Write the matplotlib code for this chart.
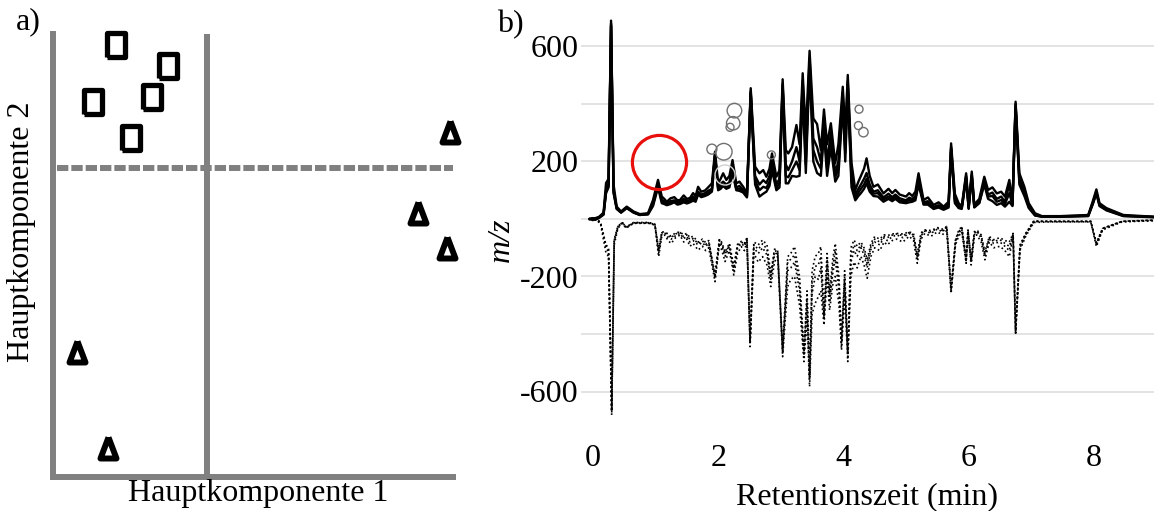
import numpy as np
import matplotlib
matplotlib.use("Agg")
import matplotlib.pyplot as plt
from matplotlib.markers import MarkerStyle

plt.rcParams['font.family'] = ['Liberation Serif', 'DejaVu Serif']
plt.rcParams['font.size'] = 23

# --- a) PCA score plot ---
pc1_square = [-2.28, -0.98, -2.85, -1.38, -1.90]
pc2_square = [3.08, 2.55, 1.65, 1.78, 0.75]
pc1_triangle = [6.08, 5.28, 6.00, -3.25, -2.48]
pc2_triangle = [0.90, -1.13, -2.00, -4.60, -7.00]

# --- b) mirrored chromatograms (upper: solid, lower: dotted) ---
rt_pos = [-0.05, 0.00, 0.05, 0.10, 0.17, 0.21, 0.25, 0.29, 0.33, 0.38,
          0.45, 0.54, 0.65, 0.75, 0.88, 0.96, 1.04, 1.10, 1.14, 1.18,
          1.24, 1.30, 1.35, 1.39, 1.45, 1.50, 1.55, 1.60, 1.64, 1.68,
          1.73, 1.79, 1.84, 1.90, 1.95, 2.00, 2.04, 2.08, 2.13, 2.18,
          2.23, 2.29, 2.34, 2.40, 2.46, 2.52, 2.59, 2.66, 2.72, 2.77,
          2.82, 2.86, 2.93, 2.98, 3.03, 3.08, 3.12, 3.18, 3.25, 3.30,
          3.35, 3.40, 3.46, 3.52, 3.58, 3.64, 3.69, 3.74, 3.80, 3.87,
          3.92, 3.99, 4.03, 4.07, 4.13, 4.19, 4.24, 4.28, 4.33, 4.37,
          4.42, 4.48, 4.55, 4.64, 4.72, 4.78, 4.83, 4.90, 5.00, 5.05,
          5.10, 5.15, 5.20, 5.28, 5.35, 5.44, 5.52, 5.60, 5.68, 5.72,
          5.78, 5.84, 5.89, 5.96, 6.00, 6.05, 6.09, 6.17, 6.25, 6.31,
          6.38, 6.45, 6.52, 6.58, 6.65, 6.70, 6.75, 6.81, 6.89, 6.96,
          7.06, 7.17, 7.46, 7.91, 7.98, 8.04, 8.09, 8.20, 8.47, 8.96]
pos_a = [0, 3, 2, 8, 22, 125, 140, 690, 120, 43,
         26, 43, 26, 17, 20, 66, 136, 78, 70, 60,
         72, 76, 65, 66, 82, 70, 73, 90, 80, 112,
         95, 99, 110, 124, 234, 124, 140, 159, 136, 150,
         205, 124, 130, 112, 90, 455, 182, 159, 170, 147,
         175, 228, 147, 170, 486, 240, 228, 250, 327, 260,
         507, 300, 585, 350, 330, 240, 381, 260, 333, 194,
         260, 460, 300, 501, 194, 101, 130, 150, 175, 211,
         150, 112, 120, 89, 105, 90, 101, 85, 78, 90,
         80, 95, 159, 66, 75, 49, 58, 43, 60, 263,
         88, 55, 45, 159, 45, 165, 50, 70, 147, 101,
         110, 89, 95, 78, 136, 60, 408, 159, 112, 55,
         20, 10, 10, 14, 60, 103, 55, 38, 14, 8]
pos_b = [0, -4, 4, 6, 18, 100, 120, 680, 100, 38,
         24, 40, 24, 15, 18, 55, 125, 65, 62, 55,
         62, 65, 58, 60, 70, 62, 66, 78, 72, 95,
         85, 90, 98, 105, 225, 110, 122, 130, 120, 128,
         180, 110, 115, 100, 82, 445, 150, 120, 135, 125,
         150, 200, 120, 140, 470, 190, 170, 200, 250, 200,
         480, 230, 560, 280, 250, 200, 350, 200, 300, 160,
         200, 440, 260, 480, 150, 85, 105, 120, 140, 160,
         120, 95, 100, 75, 88, 76, 85, 72, 65, 74,
         70, 80, 140, 58, 62, 42, 48, 38, 50, 250,
         70, 45, 40, 150, 40, 155, 45, 60, 135, 85,
         92, 70, 78, 60, 120, 50, 400, 140, 95, 45,
         15, 9, 9, 12, 55, 95, 50, 34, 12, 7]
pos_c = [0, 2, 0, 5, 16, 95, 115, 675, 95, 36,
         23, 39, 23, 14, 17, 50, 118, 60, 57, 50,
         56, 60, 54, 55, 64, 58, 62, 70, 66, 88,
         80, 84, 90, 98, 220, 104, 112, 120, 110, 118,
         170, 104, 106, 95, 78, 440, 135, 100, 112, 108,
         130, 185, 108, 125, 462, 150, 145, 170, 200, 170,
         460, 190, 545, 240, 200, 175, 325, 175, 275, 145,
         175, 420, 230, 465, 130, 75, 92, 105, 120, 140,
         105, 88, 90, 68, 78, 68, 78, 64, 60, 66,
         65, 72, 130, 54, 56, 38, 44, 35, 45, 245,
         62, 40, 38, 145, 38, 150, 42, 57, 128, 78,
         80, 60, 66, 52, 90, 48, 395, 130, 88, 42,
         13, 8, 8, 11, 52, 92, 48, 32, 11, 7]
pos_d = [0, 1, -2, 4, 15, 90, 110, 670, 90, 35,
         22, 38, 22, 14, 16, 45, 110, 55, 52, 48,
         52, 58, 50, 52, 58, 54, 58, 64, 60, 85,
         76, 80, 85, 95, 215, 100, 105, 115, 105, 110,
         160, 100, 98, 92, 75, 435, 120, 78, 88, 95,
         115, 170, 100, 110, 455, 124, 124, 150, 147, 150,
         440, 160, 530, 200, 160, 150, 300, 150, 250, 130,
         150, 400, 200, 450, 110, 65, 80, 90, 105, 124,
         95, 80, 78, 60, 70, 62, 70, 58, 55, 58,
         60, 65, 120, 50, 50, 35, 40, 32, 40, 240,
         55, 38, 35, 140, 35, 145, 40, 55, 120, 70,
         62, 49, 55, 43, 60, 45, 390, 120, 80, 38,
         12, 8, 8, 10, 50, 88, 45, 30, 10, 6]

rt_neg = [-0.05, 0.00, 0.05, 0.12, 0.21, 0.25, 0.30, 0.34, 0.40, 0.47,
          0.53, 0.65, 0.89, 0.99, 1.05, 1.10, 1.15, 1.20, 1.25, 1.32,
          1.39, 1.45, 1.50, 1.55, 1.60, 1.68, 1.75, 1.80, 1.85, 1.95,
          2.02, 2.06, 2.11, 2.18, 2.25, 2.31, 2.37, 2.42, 2.46, 2.51,
          2.57, 2.64, 2.71, 2.78, 2.84, 2.90, 2.95, 3.03, 3.11, 3.16,
          3.22, 3.30, 3.37, 3.42, 3.46, 3.50, 3.55, 3.60, 3.64, 3.69,
          3.74, 3.78, 3.83, 3.87, 3.93, 3.97, 4.02, 4.07, 4.12, 4.17,
          4.22, 4.28, 4.33, 4.38, 4.44, 4.50, 4.58, 4.65, 4.70, 4.78,
          4.85, 4.95, 5.05, 5.12, 5.18, 5.24, 5.30, 5.40, 5.50, 5.58,
          5.65, 5.72, 5.79, 5.84, 5.89, 5.96, 5.99, 6.04, 6.09, 6.13,
          6.20, 6.26, 6.33, 6.40, 6.50, 6.58, 6.65, 6.71, 6.75, 6.82,
          6.91, 7.04, 7.30, 7.95, 8.04, 8.14, 8.45, 8.96]
neg_a = [0, -3, -4, -15, -119, -130, -682, -90, -32, -15,
         -32, -15, -15, -21, -131, -60, -56, -75, -85, -65,
         -56, -80, -70, -95, -85, -108, -95, -110, -100, -218,
         -85, -110, -148, -110, -195, -120, -96, -110, -79, -444,
         -119, -150, -131, -160, -235, -150, -130, -479, -235, -210,
         -200, -300, -496, -350, -583, -330, -293, -270, -250, -369,
         -200, -317, -230, -200, -300, -456, -260, -496, -200, -150,
         -170, -130, -160, -206, -130, -100, -110, -80, -90, -75,
         -70, -80, -60, -75, -154, -70, -50, -60, -45, -55,
         -40, -259, -90, -60, -45, -154, -50, -160, -65, -55,
         -80, -142, -80, -100, -95, -110, -131, -60, -403, -108,
         -61, -12, -10, -10, -96, -38, -10, -6]
neg_b = [0, 2, -3, -12, -100, -115, -670, -80, -28, -13,
         -30, -14, -14, -20, -120, -52, -50, -65, -70, -58,
         -50, -68, -60, -80, -75, -90, -82, -95, -85, -205,
         -75, -95, -130, -95, -180, -100, -85, -95, -70, -430,
         -100, -120, -100, -125, -210, -125, -115, -465, -180, -170,
         -150, -250, -480, -300, -560, -260, -200, -210, -170, -350,
         -160, -290, -190, -140, -250, -440, -220, -480, -150, -110,
         -130, -100, -125, -170, -105, -80, -90, -65, -75, -62,
         -55, -65, -50, -62, -140, -58, -42, -50, -35, -45,
         -30, -250, -80, -50, -35, -145, -42, -150, -55, -45,
         -65, -130, -70, -85, -80, -95, -110, -55, -395, -100,
         -55, -9, -9, -9, -90, -35, -9, -5]
neg_c = [0, -2, -2, -11, -95, -108, -665, -75, -26, -12,
         -29, -13, -13, -19, -112, -48, -47, -58, -65, -52,
         -47, -62, -55, -72, -68, -85, -76, -88, -80, -200,
         -72, -88, -122, -90, -172, -92, -80, -88, -68, -425,
         -90, -105, -86, -105, -200, -112, -110, -458, -150, -140,
         -125, -225, -470, -275, -550, -220, -165, -160, -130, -335,
         -140, -275, -165, -110, -225, -430, -200, -470, -125, -90,
         -110, -90, -110, -155, -95, -70, -80, -60, -65, -56,
         -52, -58, -47, -56, -132, -52, -40, -45, -32, -40,
         -28, -245, -76, -45, -30, -140, -40, -145, -50, -42,
         -60, -122, -65, -78, -72, -85, -95, -52, -390, -95,
         -52, -8, -8, -8, -86, -33, -8, -4]
neg_d = [0, -2, -2, -10, -90, -100, -660, -70, -25, -12,
         -28, -12, -12, -18, -105, -45, -45, -52, -60, -48,
         -45, -55, -50, -65, -60, -80, -70, -82, -75, -195,
         -70, -82, -115, -85, -165, -88, -78, -85, -65, -420,
         -80, -90, -73, -90, -190, -105, -108, -450, -131, -120,
         -96, -200, -460, -250, -540, -180, -130, -120, -96, -320,
         -120, -260, -140, -85, -200, -420, -180, -460, -100, -73,
         -95, -80, -100, -140, -85, -61, -70, -55, -58, -52,
         -50, -52, -45, -50, -125, -48, -38, -40, -30, -35,
         -26, -240, -73, -40, -26, -135, -38, -140, -45, -38,
         -55, -115, -61, -72, -65, -75, -80, -50, -385, -90,
         -50, -7, -8, -8, -82, -32, -8, -4]

# open circles marking features, and the highlighted region
feat_rt = [2.26, 2.24, 2.19, 1.90, 2.09, 2.11, 2.85, 4.25, 4.24, 4.32]
feat_mz = [377, 333, 319, 243, 234, 153, 223, 382, 325, 302]
feat_weight = [7.3, 6.7, 4.0, 5.0, 8.3, 10.0, 4.0, 4.0, 4.0, 4.7]
feat_faint = [False, False, False, False, False, True, False, False, False, False]
highlight_rt = 1.05
highlight_mz = 199

fig = plt.figure(figsize=(11.54, 5.11), dpi=100)
W, H = 1154, 511

gray = '#808080'

ax1 = fig.add_axes([53 / W, 1 - 477 / H, 400 / W, 443 / H])
ax1.set_xlim(-3.85, 6.15)
ax1.set_ylim(-7.725, 3.35)
for s in ['top', 'right']:
    ax1.spines[s].set_visible(False)
for s in ['left', 'bottom']:
    ax1.spines[s].set_color(gray)
    ax1.spines[s].set_linewidth(4.3)
ax1.set_xticks([])
ax1.set_yticks([])
ax1.axvline(0, color=gray, lw=4.3, zorder=1)
ax1.axhline(0, xmin=0.01, color=gray, lw=4.3, dashes=(1.9, 0.5), zorder=1)

rect = [(-0.78, -1), (0.78, -1), (0.78, 1), (-0.78, 1), (-0.78, -1)]
ax1.plot(pc1_square, pc2_square, ls='none', marker=rect, ms=17,
         mfc='white', mec='black', mew=3.8, clip_on=False, zorder=3)
tri = MarkerStyle([(0, 1), (-0.72, -0.9), (0.72, -0.9), (0, 1)],
                  joinstyle='round')
ax1.plot(pc1_triangle, pc2_triangle, ls='none', marker=tri, ms=16,
         mfc='white', mec='black', mew=4.3, clip_on=False, zorder=3)

fig.text(258 / W, 1 - 493 / H, 'Hauptkomponente 1', ha='center', va='center')
fig.text(22 / W, 1 - 232 / H, 'Hauptkomponente 2', ha='center', va='center',
         rotation=90)
fig.text(28 / W, 1 - 22 / H, 'a)', ha='center', va='center')

# right panel
ax2 = fig.add_axes([581 / W, 1 - 437.5 / H, (W - 581) / W, 425.5 / H])
ax2.set_xlim(-0.19, 8.96)
ax2.set_ylim(-760, 720)
for s in ax2.spines.values():
    s.set_visible(False)
ax2.set_yticks([-600, -400, -200, 0, 200, 400, 600])
ax2.set_yticklabels(['-600', '', '-200', '', '200', '', '600'])
ax2.set_xticks([0, 2, 4, 6, 8])
ax2.tick_params(length=0, pad=5)
ax2.tick_params(axis='y', pad=2)
ax2.grid(axis='y', color='#e0e0e0', lw=1.3)
ax2.set_axisbelow(True)

for vals in (pos_d, pos_c, pos_b, pos_a):
    ax2.plot(rt_pos, vals, color='black', lw=1.7, zorder=2)
for vals in (neg_d, neg_c, neg_b, neg_a):
    ax2.plot(rt_neg, vals, color='black', lw=1.2, ls=':', zorder=2)

sizes = (np.array(feat_weight) * 2 * 0.72) ** 2
colors = ['#d0d0d0' if f else '#707070' for f in feat_faint]
ax2.scatter(feat_rt, feat_mz, s=sizes, facecolors='none', edgecolors=colors,
            linewidths=1.0, zorder=3)
ax2.plot(highlight_rt, highlight_mz, marker='o', ms=39, mfc='none',
         mec='#e8100c', mew=2.3, zorder=4)

ax2.set_xlabel('Retentionszeit (min)', labelpad=6)
ax2.set_ylabel('m/z', style='italic')
ax2.yaxis.set_label_coords(-0.113, 0.464)
fig.text(510 / W, 1 - 25 / H, 'b)', ha='center', va='center')

fig.savefig('out.png', dpi=100, facecolor='white')
